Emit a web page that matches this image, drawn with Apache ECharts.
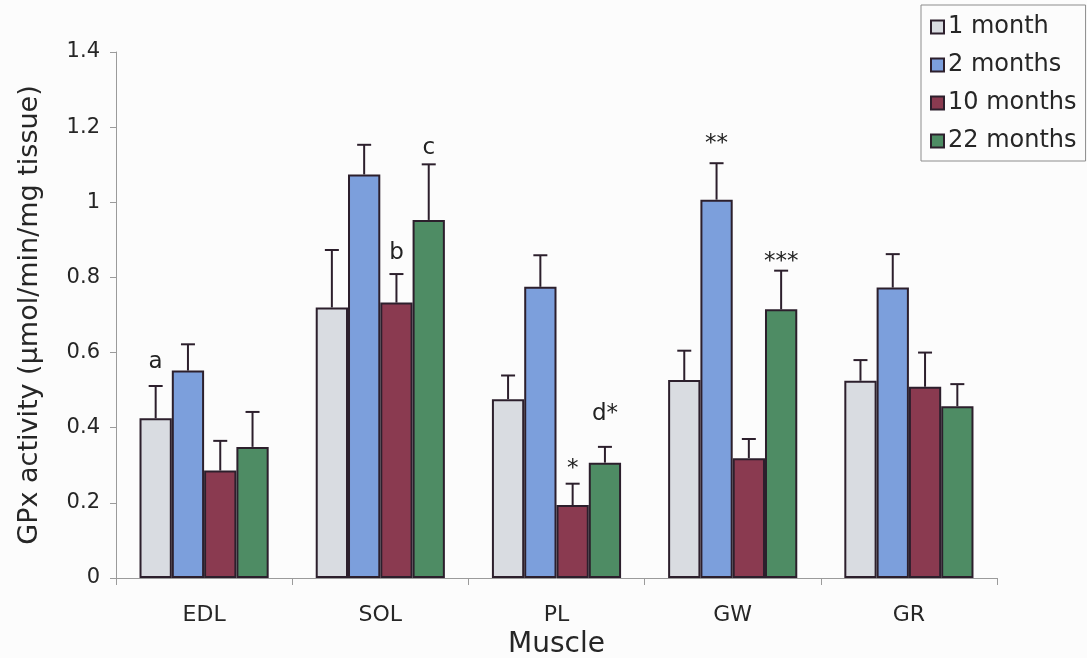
<!DOCTYPE html>
<html>
<head>
<meta charset="utf-8">
<title>GPx activity by muscle and age</title>
<script src="https://cdn.jsdelivr.net/npm/echarts@6/dist/echarts.min.js"></script>
<style>
  html, body { margin: 0; padding: 0; background: #fcfcfc; }
  #chart { width: 1087px; height: 658px; }
</style>
</head>
<body>
<div id="chart"></div>
<script>
// Muscles on the x axis
var muscles = ['EDL', 'SOL', 'PL', 'GW', 'GR'];

// Age groups (legend entries)
var ageGroups = ['1 month', '2 months', '10 months', '22 months'];

// Mean GPx activity per age group, one value per muscle
var mean1m  = [0.425, 0.720, 0.476, 0.527, 0.525];
var mean2m  = [0.552, 1.074, 0.775, 1.007, 0.773];
var mean10m = [0.286, 0.733, 0.194, 0.319, 0.509];
var mean22m = [0.349, 0.953, 0.307, 0.715, 0.457];

// Upper error (SEM) per age group, one value per muscle
var sem1m  = [0.086, 0.153, 0.063, 0.078, 0.055];
var sem2m  = [0.070, 0.079, 0.084, 0.097, 0.089];
var sem10m = [0.079, 0.076, 0.057, 0.051, 0.091];
var sem22m = [0.093, 0.148, 0.042, 0.103, 0.059];

// Significance marks: muscle, age group index, text
var marks = [
  ['EDL', 0, 'a'],
  ['SOL', 2, 'b'],
  ['SOL', 3, 'c'],
  ['PL',  2, '*'],
  ['PL',  3, 'd*'],
  ['GW',  1, '**'],
  ['GW',  3, '***']
];

// Y axis ticks
var yTicks = { min: 0, max: 1.4, step: 0.2 };

// ---- styling / layout ----
var colors = ['#d9dce1', '#7c9fdc', '#8a3a50', '#4e8c64'];
var ink = '#2c1f2c';
var FONT = 'DejaVu Sans';
var barGapFrac = 0.267;                 // empty share of each category band
// vertical lift (px) of each mark's text centre above its error cap
var markLift = { 'a': 24, 'b': 21, 'c': 16, '*': 15, 'd*': 33, '**': 19, '***': 9 };

var means = [mean1m, mean2m, mean10m, mean22m];
var sems = [sem1m, sem2m, sem10m, sem22m];

function groupOffset(api, g) {
  var band = api.size([1, 0])[0];
  var bw = band * (1 - barGapFrac) / ageGroups.length;
  return (g - (ageGroups.length - 1) / 2) * bw;
}

var series = [];
ageGroups.forEach(function (name, g) {
  series.push({
    name: name,
    type: 'bar',
    data: means[g],
    barGap: '0%',
    barCategoryGap: (barGapFrac * 100) + '%',
    itemStyle: { color: colors[g], borderColor: ink, borderWidth: 2 },
    emphasis: { disabled: true },
    z: 2
  });
});

// Error bars (upper whisker with cap), one custom series per age group
ageGroups.forEach(function (name, g) {
  series.push({
    type: 'custom',
    name: name + ' err',
    data: muscles.map(function (m, i) { return [i, means[g][i], sems[g][i]]; }),
    renderItem: function (params, api) {
      var i = api.value(0);
      var base = api.coord([i, api.value(1)]);
      var top = api.coord([i, api.value(1) + api.value(2)]);
      var x = base[0] + groupOffset(api, g);
      var cap = 7;
      return {
        type: 'group',
        children: [
          { type: 'line', shape: { x1: x, y1: base[1], x2: x, y2: top[1] },
            style: { stroke: ink, lineWidth: 2 } },
          { type: 'line', shape: { x1: x - cap, y1: top[1], x2: x + cap, y2: top[1] },
            style: { stroke: ink, lineWidth: 2 } }
        ]
      };
    },
    silent: true,
    z: 3
  });
});

// Significance letters / asterisks above the error caps
series.push({
  type: 'custom',
  name: 'marks',
  data: marks.map(function (mk) {
    var i = muscles.indexOf(mk[0]);
    var g = mk[1];
    return [i, means[g][i] + sems[g][i], g, mk[2]];
  }),
  renderItem: function (params, api) {
    var mk = marks[params.dataIndex];
    var pt = api.coord([api.value(0), api.value(1)]);
    var x = pt[0] + groupOffset(api, mk[1]);
    return {
      type: 'text',
      style: {
        x: x, y: pt[1] - markLift[mk[2]],
        text: mk[2],
        fill: '#222',
        font: '23px "' + FONT + '"',
        align: 'center',
        verticalAlign: 'middle'
      }
    };
  },
  silent: true,
  z: 4
});

var chart = echarts.init(document.getElementById('chart'), null, { renderer: 'canvas' });
chart.setOption({
  backgroundColor: '#fcfcfc',
  animation: false,
  textStyle: { fontFamily: FONT },
  grid: { left: 116, right: 90, top: 52, bottom: 80, containLabel: false, outerBoundsMode: 'none' },
  legend: {
    data: ageGroups,
    orient: 'vertical',
    left: 921,
    top: 5,
    padding: [10, 9, 8, 9],
    itemGap: 14,
    itemWidth: 13,
    itemHeight: 13,
    icon: 'rect',
    borderColor: '#8c8c8c',
    borderWidth: 1,
    textStyle: { fontFamily: FONT, fontSize: 24, lineHeight: 24, color: '#262626', padding: [0, 0, 0, -1] }
  },
  xAxis: {
    type: 'category',
    data: muscles,
    name: 'Muscle',
    nameLocation: 'middle',
    nameGap: 52,
    nameTextStyle: { fontFamily: FONT, fontSize: 28, color: '#262626' },
    axisLine: { lineStyle: { color: '#9b9b9b', width: 1 } },
    axisTick: { show: true, length: 7, lineStyle: { color: '#9b9b9b' } },
    axisLabel: { fontFamily: FONT, fontSize: 22, color: '#262626', margin: 26 },
    splitLine: { show: false }
  },
  yAxis: {
    type: 'value',
    min: yTicks.min,
    max: yTicks.max,
    interval: yTicks.step,
    name: 'GPx activity (\u03bcmol/min/mg tissue)',
    nameLocation: 'middle',
    nameRotate: 90,
    nameGap: 73,
    nameTextStyle: { fontFamily: FONT, fontSize: 27, color: '#262626' },
    axisLine: { show: true, lineStyle: { color: '#9b9b9b', width: 1 } },
    axisTick: { show: true, length: 6, lineStyle: { color: '#9b9b9b' } },
    axisLabel: { fontFamily: FONT, fontSize: 21, color: '#262626', margin: 16 },
    splitLine: { show: false }
  },
  series: series
});
</script>
</body>
</html>
